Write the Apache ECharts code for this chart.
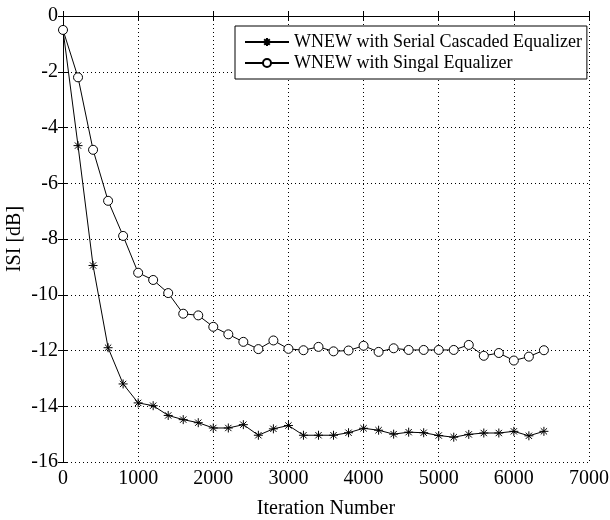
<!DOCTYPE html>
<html>
<head>
<meta charset="utf-8">
<script src="https://cdn.jsdelivr.net/npm/echarts@6/dist/echarts.min.js"></script>
<style>html,body{margin:0;padding:0;background:#fff}#c{width:610px;height:520px}</style>
</head>
<body>
<div id="c"></div>
<script>
var iterations = [0,200,400,600,800,1000,1200,1400,1600,1800,2000,2200,2400,2600,2800,3000,3200,3400,3600,3800,4000,4200,4400,4600,4800,5000,5200,5400,5600,5800,6000,6200,6400];
var serialCascaded = [-0.5,-4.65,-8.95,-11.9,-13.2,-13.88,-13.98,-14.33,-14.48,-14.59,-14.78,-14.78,-14.66,-15.04,-14.81,-14.69,-15.04,-15.04,-15.04,-14.95,-14.79,-14.86,-15.0,-14.93,-14.95,-15.05,-15.11,-15.01,-14.96,-14.96,-14.9,-15.06,-14.9];
var singleEq = [-0.5,-2.2,-4.8,-6.63,-7.89,-9.21,-9.47,-9.94,-10.68,-10.74,-11.15,-11.42,-11.69,-11.95,-11.64,-11.94,-11.99,-11.87,-12.03,-12.0,-11.83,-12.05,-11.92,-11.98,-11.98,-11.98,-11.98,-11.8,-12.19,-12.09,-12.36,-12.22,-11.99];
var seriesNames = ['WNEW with Serial Cascaded Equalizer','WNEW with Singal Equalizer'];

function pairs(xs, ys){ return xs.map(function(x,i){ return [x, ys[i]]; }); }
var font = 'Liberation Serif';
var asterisk = 'path://M0,-10 L0,10 M-10,0 L10,0 M-7,-7 L7,7 M-7,7 L7,-7';
var chart = echarts.init(document.getElementById('c'));
var axisLine = {show:true, lineStyle:{color:'#000', width:1}};
var tick = {show:true, inside:true, length:5, lineStyle:{color:'#000'}};
function plain(v){ return String(v); }
chart.setOption({
  animation:false,
  backgroundColor:'#fff',
  grid:{left:63, right:21, top:16, bottom:58, containLabel:false, outerBoundsMode:'none'},
  legend:{
    orient:'vertical', left:235, top:26,
    backgroundColor:'#fff', borderColor:'#000', borderWidth:1, borderRadius:0,
    padding:[7,5,7,9], itemGap:3, itemWidth:44, itemHeight:10,
    textStyle:{fontFamily:font, fontSize:18, color:'#000'},
    data:seriesNames
  },
  xAxis:[{
    type:'value', min:0, max:7000, interval:1000,
    name:'Iteration Number', nameLocation:'middle', nameGap:37,
    nameTextStyle:{fontFamily:font, fontSize:20, color:'#000'},
    axisLine:axisLine, axisTick:tick,
    axisLabel:{fontFamily:font, fontSize:20, color:'#000', margin:7, formatter:plain},
    splitLine:{show:true, lineStyle:{color:'#000', type:[1,3], width:1}}
  },{
    type:'value', position:'top', min:0, max:7000, interval:1000,
    axisLine:axisLine, axisTick:tick, axisLabel:{show:false}, splitLine:{show:false}
  }],
  yAxis:[{
    type:'value', min:-16, max:0, interval:2,
    name:'ISI [dB]', nameLocation:'middle', nameGap:38, nameMoveOverlap:false,
    nameTextStyle:{fontFamily:font, fontSize:20, color:'#000'},
    axisLine:axisLine, axisTick:tick,
    axisLabel:{fontFamily:font, fontSize:20, color:'#000', margin:5, formatter:plain},
    splitLine:{show:true, lineStyle:{color:'#000', type:[1,3], width:1}}
  },{
    type:'value', position:'right', min:-16, max:0, interval:2,
    axisLine:axisLine, axisTick:tick, axisLabel:{show:false}, splitLine:{show:false}
  }],
  series:[{
    name:seriesNames[0], type:'line', data:pairs(iterations, serialCascaded),
    symbol:asterisk, symbolSize:9, symbolKeepAspect:true,
    lineStyle:{color:'#000', width:1},
    itemStyle:{color:'#000', borderColor:'#000', borderWidth:1}
  },{
    name:seriesNames[1], type:'line', data:pairs(iterations, singleEq),
    symbol:'circle', symbolSize:9,
    lineStyle:{color:'#000', width:1},
    itemStyle:{color:'#fff', borderColor:'#000', borderWidth:1}
  }]
});
</script>
</body>
</html>
